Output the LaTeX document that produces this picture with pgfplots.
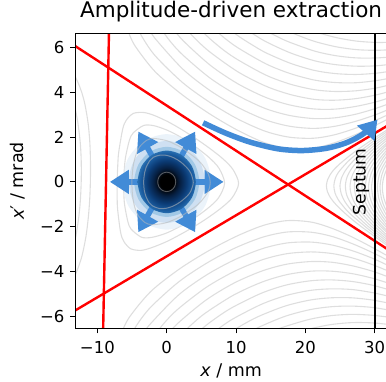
\documentclass[border=0pt]{standalone}
\usepackage{fontspec}
\setmainfont{DejaVu Sans}
\usepackage{pgfplots}
\pgfplotsset{compat=1.18}
\usetikzlibrary{arrows.meta}
\definecolor{contc}{RGB}{222,222,222}
\definecolor{arrblue}{RGB}{66,139,215}
\definecolor{bA}{RGB}{222,235,247}
\definecolor{bB}{RGB}{198,219,239}
\definecolor{bH}{RGB}{150,195,228}
\definecolor{bC}{RGB}{107,174,214}
\definecolor{bD}{RGB}{59,135,196}
\definecolor{bE}{RGB}{28,95,163}
\definecolor{bF}{RGB}{11,59,117}
\definecolor{bG}{RGB}{6,30,63}
\definecolor{ringc}{RGB}{185,185,185}
\pgfdeclareradialshading{beamcore}{\pgfpoint{0bp}{0bp}}{color(0bp)=(black); color(6bp)=(black); color(11bp)=(bG); color(17bp)=(bF); color(23bp)=(bE); color(28bp)=(bD); color(32bp)=(bC); color(35bp)=(bH); color(50bp)=(bH)}
\begin{document}
\begin{tikzpicture}
\begin{axis}[
  scale only axis, width=312.2pt, height=295.2pt,
  xmin=-13.23, xmax=31.8, ymin=-6.55, ymax=6.64,
  axis on top,
  axis line style={line width=1pt, black},
  tick align=outside, major tick length=5pt,
  tick style={line width=1pt, black},
  xtick pos=bottom, ytick pos=left,
  xtick={-10,0,10,20,30}, xticklabels={−10,0,10,20,30},
  ytick={-6,-4,-2,0,2,4,6}, yticklabels={−6,−4,−2,0,2,4,6},
  ticklabel style={font=\fontsize{16.5}{19}\selectfont},
  xticklabel style={yshift=-4pt},
  yticklabel style={xshift=-2pt},
  title={Amplitude-driven extraction},
  title style={font=\fontsize{21.5}{25}\selectfont, at={(axis description cs:0.5,1)}, anchor=base, yshift=10pt},
  xlabel={\textit{x} / mm},
  xlabel style={font=\fontsize{17.5}{20}\selectfont, at={(axis description cs:0.5,-0.1626)}, anchor=base},
  ylabel={\textit{x}′ / mrad},
  ylabel style={font=\fontsize{17.5}{20}\selectfont, at={(axis description cs:-0.1634,0.5)}, anchor=base},
  cont/.style={color=contc, line width=1.1pt, smooth},
  barrow/.style={arrblue, line width=5.5pt, -{Triangle[length=19pt,width=23pt]}},
]
\coordinate (bbSW) at (axis cs:-24.05,-8.93);
\coordinate (bbNE) at (axis cs:31.63,8.128);

% ---------- Hamiltonian contours: outer arcs (upper) ----------
\addplot[cont] coordinates {(-5.58,6.76) (-4.62,6.10) (-1.69,4.93) (2.25,3.89) (6.19,3.04) (10.15,2.32) (14.12,1.75) (17.6,1.49) (21.1,1.50) (24.12,1.74) (27.14,2.10) (30.17,2.54) (33.2,3.01)};
\addplot[cont] coordinates {(-4.55,7.12) (-3.59,6.50) (-1.65,5.63) (2.28,4.44) (6.23,3.55) (10.18,2.82) (14.15,2.27) (17.63,2.00) (21.13,1.95) (24.14,2.10) (27.16,2.39) (30.19,2.76) (33.22,3.19)};
\addplot[cont] coordinates {(-3.53,7.43) (-2.57,6.85) (-1.60,6.38) (2.32,5.04) (6.26,4.08) (10.21,3.34) (14.18,2.78) (17.66,2.49) (21.16,2.39) (24.17,2.48) (27.18,2.70) (30.2,3.01) (33.23,3.40)};
\addplot[cont] coordinates {(-1.55,7.16) (0.40,6.32) (2.36,5.66) (6.29,4.63) (10.25,3.86) (14.21,3.28) (17.69,2.97) (21.19,2.83) (24.19,2.86) (27.2,3.02) (30.22,3.29) (33.24,3.63)};
\addplot[cont] coordinates {(0.44,7.02) (2.40,6.30) (6.33,5.20) (10.28,4.38) (14.24,3.78) (17.72,3.44) (21.21,3.26) (24.22,3.25) (27.22,3.37) (30.24,3.58) (33.26,3.88)};
\addplot[cont] coordinates {(2.44,6.95) (4.40,6.31) (6.37,5.77) (10.31,4.91) (14.28,4.28) (17.75,3.91) (21.24,3.69) (24.24,3.65) (27.25,3.72) (30.26,3.89) (33.28,4.14)};
\addplot[cont] coordinates {(4.44,6.92) (6.40,6.35) (8.37,5.85) (10.35,5.44) (14.31,4.77) (17.78,4.37) (21.27,4.12) (24.27,4.04) (27.27,4.07) (30.28,4.20) (33.29,4.42)};
\addplot[cont] coordinates {(6.44,6.93) (8.41,6.41) (10.38,5.97) (14.34,5.27) (17.81,4.84) (21.30,4.55) (24.29,4.44) (27.29,4.43) (30.30,4.53) (33.31,4.70)};
\addplot[cont] coordinates {(8.44,6.96) (10.41,6.50) (12.39,6.11) (14.37,5.76) (17.84,5.30) (21.32,4.98) (24.32,4.84) (27.31,4.80) (30.32,4.86) (33.33,5.00)};
\addplot[cont] coordinates {(10.45,7.03) (12.42,6.62) (14.40,6.25) (17.87,5.76) (21.35,5.41) (24.34,5.24) (27.34,5.17) (30.34,5.19) (33.35,5.30)};
\addplot[cont] coordinates {(12.45,7.13) (14.43,6.74) (16.41,6.42) (17.90,6.22) (21.38,5.84) (24.37,5.64) (27.36,5.54) (30.36,5.54) (33.37,5.61)};
\addplot[cont] coordinates {(16.44,6.90) (17.93,6.68) (19.42,6.49) (21.40,6.27) (24.39,6.04) (27.38,5.91) (30.38,5.88) (33.39,5.93)};
\addplot[cont] coordinates {(21.43,6.70) (24.42,6.45) (27.41,6.29) (30.41,6.23) (33.41,6.25)};
% ---------- outer arcs (lower) ----------
\addplot[cont] coordinates {(-6.42,-6.68) (-5.38,-6.04) (-2.31,-4.90) (1.75,-3.91) (5.81,-3.12) (9.85,-2.46) (13.88,-1.95) (17.4,-1.73) (20.9,-1.80) (23.88,-2.08) (26.86,-2.48) (29.83,-2.96) (32.8,-3.47)};
\addplot[cont] coordinates {(-5.45,-7.05) (-4.41,-6.44) (-2.35,-5.61) (1.72,-4.47) (5.77,-3.63) (9.82,-2.96) (13.85,-2.47) (17.37,-2.24) (20.87,-2.25) (23.86,-2.44) (26.84,-2.77) (29.81,-3.18) (32.78,-3.65)};
\addplot[cont] coordinates {(-4.47,-7.37) (-3.43,-6.81) (-2.40,-6.36) (1.68,-5.06) (5.74,-4.16) (9.79,-3.48) (13.82,-2.98) (17.34,-2.73) (20.84,-2.69) (23.83,-2.82) (26.82,-3.08) (29.8,-3.43) (32.77,-3.86)};
\addplot[cont] coordinates {(-2.45,-7.14) (-0.40,-6.32) (1.64,-5.68) (5.71,-4.71) (9.75,-4.00) (13.79,-3.48) (17.31,-3.21) (20.81,-3.13) (23.81,-3.20) (26.8,-3.40) (29.78,-3.71) (32.76,-4.09)};
\addplot[cont] coordinates {(-0.44,-7.02) (1.60,-6.32) (5.67,-5.28) (9.72,-4.52) (13.76,-3.98) (17.28,-3.68) (20.79,-3.56) (23.78,-3.59) (26.78,-3.75) (29.76,-4.00) (32.74,-4.34)};
\addplot[cont] coordinates {(1.56,-6.97) (3.60,-6.37) (5.63,-5.85) (9.69,-5.05) (13.72,-4.48) (17.25,-4.15) (20.76,-3.99) (23.76,-3.99) (26.75,-4.10) (29.74,-4.31) (32.72,-4.60)};
\addplot[cont] coordinates {(3.56,-6.98) (5.60,-6.43) (7.63,-5.97) (9.65,-5.58) (13.69,-4.97) (17.22,-4.61) (20.73,-4.42) (23.73,-4.38) (26.73,-4.45) (29.72,-4.62) (32.71,-4.88)};
\addplot[cont] coordinates {(5.56,-7.01) (7.59,-6.53) (9.62,-6.11) (13.66,-5.47) (17.19,-5.08) (20.70,-4.85) (23.71,-4.78) (26.71,-4.81) (29.70,-4.95) (32.69,-5.16)};
\addplot[cont] coordinates {(7.56,-7.08) (9.59,-6.64) (11.61,-6.27) (13.63,-5.96) (17.16,-5.54) (20.68,-5.28) (23.68,-5.18) (26.69,-5.18) (29.68,-5.28) (32.67,-5.46)};
\addplot[cont] coordinates {(9.55,-7.17) (11.58,-6.78) (13.60,-6.45) (17.13,-6.00) (20.65,-5.71) (23.66,-5.58) (26.66,-5.55) (29.66,-5.61) (32.65,-5.76)};
\addplot[cont] coordinates {(11.55,-7.29) (13.57,-6.94) (15.59,-6.64) (17.10,-6.46) (20.62,-6.14) (23.63,-5.98) (26.64,-5.92) (29.64,-5.96) (32.63,-6.07)};
\addplot[cont] coordinates {(15.56,-7.12) (17.07,-6.92) (18.58,-6.75) (20.60,-6.57) (23.61,-6.38) (26.62,-6.29) (29.62,-6.30) (32.61,-6.39)};
% ---------- left strip ----------
\addplot[cont] coordinates {(-13.69,4.98) (-13.21,4.71) (-12.73,4.39) (-12.25,3.99) (-11.79,3.45) (-11.34,2.62) (-11.09,1.75) (-11.0,0.89) (-11.01,0.08) (-11.1,-0.73) (-11.31,-1.59) (-11.66,-2.46) (-12.21,-3.29) (-12.75,-3.81) (-13.27,-4.21) (-13.79,-4.52) (-14.31,-4.78)};
\addplot[cont] coordinates {(-13.76,3.88) (-13.29,3.38) (-12.84,2.69) (-12.49,1.81) (-12.34,1.01) (-12.33,0.09) (-12.46,-0.83) (-12.71,-1.63) (-13.16,-2.51) (-13.71,-3.19) (-14.24,-3.68)};
% ---------- inner closed curves ----------
\addplot[cont, smooth cycle] coordinates {(-7.15,0.05) (-7.05,0.82) (-6.92,1.34) (-6.35,2.36) (-5.83,2.76) (-4.81,3.06) (-3.31,3.10) (-1.81,2.97) (0.17,2.69) (2.15,2.34) (4.12,1.95) (6.10,1.52) (8.07,1.04) (9.54,0.56) (10.37,-0.07) (9.46,-0.70) (7.93,-1.15) (5.90,-1.61) (3.88,-2.01) (1.85,-2.37) (-0.17,-2.69) (-2.19,-2.94) (-3.69,-3.06) (-5.19,-2.99) (-6.17,-2.67) (-6.65,-2.26) (-7.08,-1.24) (-7.15,-0.72)};
\addplot[cont, smooth cycle] coordinates {(-6.2,0.04) (-6.11,0.60) (-5.93,1.12) (-5.39,1.85) (-4.86,2.18) (-3.34,2.52) (-1.84,2.51) (0.14,2.30) (2.13,1.98) (4.10,1.58) (6.07,1.10) (7.54,0.61) (8.35,-0.06) (7.46,-0.72) (5.93,-1.18) (3.90,-1.64) (1.87,-2.00) (-0.14,-2.30) (-2.16,-2.48) (-3.66,-2.47) (-5.14,-2.11) (-5.61,-1.77) (-6.07,-1.04) (-6.19,-0.51)};
% ---------- wedge curves ----------
\addplot[cont] coordinates {(32.82,-3.06) (29.86,-2.41) (26.90,-1.72) (24.94,-1.18) (23.96,-0.85) (23.47,-0.63) (23.18,-0.44) (23.03,-0.16) (23.22,0.11) (23.53,0.30) (24.04,0.52) (25.06,0.83) (27.10,1.34) (30.14,1.99) (33.18,2.60)};
\addplot[cont] coordinates {(32.83,-2.99) (29.87,-2.31) (26.91,-1.55) (25.93,-1.26) (24.95,-0.89) (24.57,-0.70) (24.28,-0.50) (24.1,-0.17) (24.32,0.16) (24.63,0.36) (25.05,0.54) (26.07,0.89) (27.09,1.17) (30.13,1.89) (33.17,2.53)};
\addplot[cont] coordinates {(32.83,-2.92) (29.87,-2.20) (28.40,-1.81) (26.93,-1.37) (25.95,-1.00) (25.46,-0.75) (25.18,-0.54) (24.99,-0.175) (25.22,0.19) (25.54,0.39) (26.05,0.63) (27.07,0.99) (28.60,1.41) (30.13,1.78) (33.17,2.46)};
\addplot[cont] coordinates {(32.84,-2.84) (29.88,-2.09) (28.41,-1.66) (26.94,-1.14) (26.26,-0.80) (25.97,-0.59) (25.88,-0.49) (25.76,-0.18) (25.92,0.13) (26.03,0.23) (26.34,0.43) (27.06,0.76) (28.59,1.26) (30.12,1.67) (33.16,2.38)};
\addplot[cont] coordinates {(32.84,-2.76) (29.89,-1.97) (28.42,-1.50) (27.44,-1.10) (26.96,-0.85) (26.58,-0.53) (26.44,-0.185) (26.62,0.16) (27.04,0.47) (27.56,0.72) (28.58,1.10) (30.11,1.55) (33.16,2.30)};
\addplot[cont] coordinates {(32.85,-2.68) (29.90,-1.84) (28.43,-1.31) (27.56,-0.86) (27.23,-0.58) (27.06,-0.19) (27.27,0.20) (27.64,0.47) (28.57,0.91) (30.10,1.42) (33.15,2.22)};
\addplot[cont] coordinates {(32.85,-2.59) (29.91,-1.70) (28.93,-1.32) (28.16,-0.90) (27.78,-0.58) (27.63,-0.19) (27.82,0.19) (28.24,0.51) (29.07,0.91) (30.09,1.28) (33.15,2.13)};
\addplot[cont] coordinates {(32.86,-2.51) (30.89,-1.90) (29.43,-1.34) (28.66,-0.91) (28.32,-0.62) (28.16,-0.20) (28.38,0.22) (28.74,0.51) (29.57,0.92) (31.11,1.47) (33.14,2.05)};
\addplot[cont] coordinates {(32.86,-2.41) (30.90,-1.77) (29.93,-1.37) (29.15,-0.93) (28.82,-0.64) (28.65,-0.20) (28.88,0.23) (29.25,0.52) (30.07,0.95) (31.10,1.34) (33.14,1.95)};
\addplot[cont] coordinates {(32.87,-2.32) (31.89,-2.00) (30.42,-1.41) (29.65,-0.98) (29.27,-0.63) (29.12,-0.20) (29.33,0.22) (29.75,0.56) (30.58,0.98) (32.11,1.55) (33.13,1.86)};
\addplot[cont] coordinates {(32.87,-2.22) (31.90,-1.87) (30.92,-1.46) (30.05,-0.96) (29.72,-0.65) (29.55,-0.21) (29.78,0.24) (30.15,0.54) (31.08,1.03) (32.10,1.43) (33.13,1.76)};
\addplot[cont] coordinates {(32.88,-2.11) (31.42,-1.53) (30.55,-1.04) (30.17,-0.70) (29.98,-0.21) (30.23,0.28) (30.65,0.61) (31.58,1.09) (33.12,1.65)};
\addplot[cont] coordinates {(32.89,-2.00) (31.91,-1.60) (30.95,-1.05) (30.57,-0.71) (30.4,-0.21) (30.63,0.28) (31.05,0.62) (32.09,1.15) (33.11,1.54)};
\addplot[cont] coordinates {(32.41,-1.67) (31.44,-1.15) (30.97,-0.74) (30.77,-0.215) (31.03,0.31) (31.56,0.71) (32.59,1.22)};
\addplot[cont] coordinates {(32.90,-1.75) (31.94,-1.25) (31.27,-0.67) (31.1,-0.22) (31.33,0.23) (32.06,0.80) (33.10,1.29)};

% ---------- separatrix lines ----------
\addplot[red, line width=2.4pt] coordinates {(-13.5,6.13) (32,-3.04)};
\addplot[red, line width=2.4pt] coordinates {(-13.5,-5.80) (32,2.54)};
\addplot[red, line width=2.4pt] coordinates {(-8.31,7) (-9.197,-7)};
% ---------- septum ----------
\addplot[black, line width=2.2pt] coordinates {(30,-7) (30,7)};

% ---------- beam halo ----------
\addplot[fill=bA, fill opacity=0.6, draw=none, smooth cycle] coordinates {(6.4,0) (5.543,1.067) (3.2,1.848) (0,2.133) (-3.2,1.848) (-5.543,1.067) (-6.4,0) (-5.543,-1.067) (-3.2,-1.848) (0,-2.133) (3.2,-1.848) (5.543,-1.067)};
\addplot[fill=bB, fill opacity=0.75, draw=none, smooth cycle] coordinates {(5.5,0) (4.763,0.917) (2.75,1.588) (0,1.833) (-2.75,1.588) (-4.763,0.917) (-5.5,0) (-4.763,-0.917) (-2.75,-1.588) (0,-1.833) (2.75,-1.588) (4.763,-0.917)};
\addplot[fill=bH, fill opacity=0.8, draw=none, smooth cycle] coordinates {(4.7,0) (4.070,0.783) (2.35,1.357) (0,1.567) (-2.35,1.357) (-4.070,0.783) (-4.7,0) (-4.070,-0.783) (-2.35,-1.357) (0,-1.567) (2.35,-1.357) (4.070,-0.783)};

% ---------- radial arrows ----------
\addplot[barrow] coordinates {(0,0) (8.2,0)};
\addplot[barrow] coordinates {(0,0) (-8.2,0)};
\addplot[barrow] coordinates {(0,0) (4.1,2.25)};
\addplot[barrow] coordinates {(0,0) (-4.1,2.25)};
\addplot[barrow] coordinates {(0,0) (-4.1,-2.25)};
\addplot[barrow] coordinates {(0,0) (4.1,-2.25)};

% ---------- beam core ----------
\addplot[draw=none, shade, shading=beamcore, smooth cycle] coordinates {(4.2,0) (3.637,0.7) (2.1,1.212) (0,1.4) (-2.1,1.212) (-3.637,0.7) (-4.2,0) (-3.637,-0.7) (-2.1,-1.212) (0,-1.4) (2.1,-1.212) (3.637,-0.7)};
% rings over the beam
\addplot[ringc, line width=1pt, smooth cycle, opacity=0.55] coordinates {(-5.02,0.04) (-4.92,0.51) (-4.75,0.86) (-4.42,1.23) (-3.90,1.57) (-2.88,1.86) (-1.88,1.94) (0.12,1.83) (2.10,1.53) (4.07,1.09) (5.05,0.80) (6.02,0.34) (6.28,-0.04) (5.98,-0.43) (4.95,-0.87) (3.93,-1.15) (1.90,-1.56) (-0.12,-1.83) (-2.12,-1.91) (-3.12,-1.82) (-4.10,-1.51) (-4.58,-1.17) (-4.85,-0.79) (-4.98,-0.44)};
\addplot[ringc, line width=1pt, smooth cycle, opacity=0.55] coordinates {(-3.33,0.02) (-3.17,0.44) (-2.96,0.66) (-2.44,0.95) (-1.93,1.10) (-0.92,1.20) (0.07,1.18) (1.07,1.07) (2.06,0.88) (3.04,0.59) (3.52,0.36) (3.83,-0.03) (3.48,-0.41) (2.96,-0.63) (1.94,-0.90) (0.93,-1.08) (-0.07,-1.18) (-1.08,-1.19) (-2.07,-1.07) (-2.56,-0.92) (-3.04,-0.62) (-3.23,-0.40)};
\addplot[ringc, line width=0.9pt, smooth cycle, opacity=0.45] coordinates {(1.3,0) (1.126,0.217) (0.65,0.375) (0,0.433) (-0.65,0.375) (-1.126,0.217) (-1.3,0) (-1.126,-0.217) (-0.65,-0.375) (0,-0.433) (0.65,-0.375) (1.126,-0.217)};

% ---------- extraction arrow ----------
\addplot[arrblue, line width=5.5pt, smooth, -{Triangle[length=18pt,width=22pt]}] coordinates {(5.25,2.64) (8.5,2.18) (12,1.78) (16,1.48) (19.5,1.40) (23,1.50) (26,1.76) (28.5,2.18) (30.4,2.78)};

\node[rotate=90, anchor=base, font=\fontsize{17.2}{20}\selectfont] at (axis cs:28.7,0) {Septum};
\end{axis}
\pgfresetboundingbox
\path[use as bounding box] (bbSW) rectangle (bbNE);
\end{tikzpicture}
\end{document}
